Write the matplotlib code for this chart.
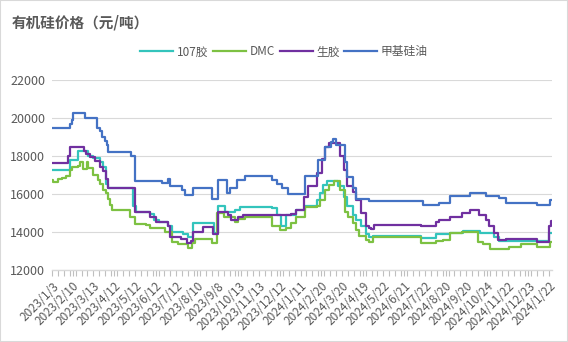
import matplotlib
matplotlib.use("Agg")
import matplotlib.pyplot as plt
from matplotlib.patches import Rectangle

plt.rcParams['font.family'] = ['Noto Sans CJK SC', 'DejaVu Sans']

# x tick labels, one every 21 points
tick_labels = ["2023/1/3", "2023/2/10", "2023/3/13", "2023/4/12", "2023/5/12",
               "2023/6/12", "2023/7/12", "2023/8/10", "2023/9/8", "2023/10/13",
               "2023/11/13", "2023/12/12", "2024/1/11", "2024/2/20", "2024/3/20",
               "2024/4/19", "2024/5/22", "2024/6/21", "2024/7/22", "2024/8/20",
               "2024/9/20", "2024/10/24", "2024/11/22", "2024/12/23", "2024/1/22"]
n_points = 508

# step series: index where a price starts, and the price
j107_idx = [0, 18, 26, 37, 42, 49, 52, 55, 57, 82, 85, 99, 103, 108, 118, 122, 133, 138, 143,
            164, 168, 175, 186, 191, 223, 228, 232, 237, 247, 257, 269, 272, 275, 279, 290,
            296, 299, 305, 308, 313, 318, 321, 325, 374, 389, 404, 417, 434, 448, 453, 504]
j107_val = [17250, 17800, 18250, 18000, 17900, 17700, 17400, 16550, 16300, 15350, 15050, 14950,
            14650, 14550, 14300, 14000, 13900, 13750, 14450, 13950, 15350, 15050, 15150, 15300,
            15250, 14900, 14300, 14900, 15150, 15350, 15700, 16050, 16450, 16700, 16400, 15850,
            15350, 14900, 14650, 14300, 13900, 13750, 13800, 13700, 13900, 13950, 14050, 13950,
            13750, 13550, 13950]

dmc_idx = [0, 1, 6, 10, 14, 18, 20, 26, 28, 31, 36, 37, 42, 47, 49, 52, 55, 57, 59, 61, 79, 84,
           95, 99, 115, 122, 128, 138, 142, 145, 162, 167, 174, 186, 189, 196, 223, 231, 237,
           242, 247, 257, 269, 272, 277, 281, 286, 292, 297, 300, 305, 308, 311, 318, 321, 325,
           374, 389, 396, 404, 416, 432, 437, 444, 463, 475, 492, 505]
dmc_val = [16750, 16650, 16800, 16850, 16950, 17250, 17400, 17450, 17700, 17300, 17700, 17350,
           17000, 16750, 16550, 16200, 16050, 15750, 15400, 15150, 14800, 14400, 14350, 14200,
           14000, 13500, 13350, 13150, 13400, 13650, 13400, 15000, 14800, 14550, 14700, 14800,
           14300, 14100, 14200, 14450, 14800, 15300, 15350, 15700, 16200, 16450, 16700, 16200,
           15050, 14800, 14450, 14100, 13800, 13600, 13450, 13750, 13400, 13550, 13600, 13950,
           14000, 13500, 13350, 13100, 13200, 13350, 13200, 13500]

raw_idx = [0, 16, 18, 32, 35, 39, 44, 49, 52, 55, 57, 84, 99, 105, 118, 120, 131, 137, 141, 143,
           153, 163, 168, 178, 181, 189, 194, 242, 247, 255, 260, 269, 274, 277, 281, 292, 296,
           299, 305, 308, 313, 318, 321, 323, 326, 374, 389, 392, 404, 416, 424, 433, 440, 443,
           448, 452, 460, 492, 504, 506]
raw_val = [17650, 18000, 18450, 18250, 18100, 17950, 17750, 17400, 17200, 16800, 16300, 15050,
           14800, 14550, 14300, 13750, 13650, 13400, 13550, 14000, 14250, 13900, 15050, 14900,
           14650, 14800, 14900, 14950, 15150, 15850, 16400, 17100, 17850, 18500, 18700, 18000,
           17250, 16400, 16100, 15700, 15000, 14300, 14200, 14150, 14350, 14300, 14550, 14650,
           14800, 15000, 15150, 14900, 14650, 14300, 13950, 13600, 13650, 13450, 14300, 14600]

oil_idx = [0, 18, 20, 21, 33, 46, 49, 51, 54, 56, 57, 80, 84, 112, 118, 120, 132, 135, 143, 162,
           168, 177, 180, 188, 196, 223, 228, 233, 239, 257, 270, 277, 283, 285, 288, 297, 299,
           305, 308, 321, 376, 392, 404, 424, 440, 453, 460, 492, 505]
oil_val = [19500, 19700, 19900, 20250, 20000, 19500, 19300, 19000, 18800, 18600, 18200, 18000,
           16700, 16600, 16800, 16400, 16200, 15950, 16300, 15750, 16750, 16050, 16300, 16750,
           16950, 16750, 16550, 16300, 16000, 16950, 17800, 18500, 18750, 18900, 18600, 17700,
           16900, 16300, 15750, 15650, 15400, 15550, 15900, 16050, 15900, 15800, 15550, 15400,
           15700]

series = [("107胶", j107_idx, j107_val, "#33C4BC"),
          ("DMC", dmc_idx, dmc_val, "#7DC142"),
          ("生胶", raw_idx, raw_val, "#7030A0"),
          ("甲基硅油", oil_idx, oil_val, "#4472C4")]

fig = plt.figure(figsize=(5.68, 3.42), dpi=100)
ax = fig.add_axes([0.0915, 0.2105, 0.8805, 0.5555])

for name, idx, val, color in series:
    xs = list(idx) + [n_points - 1]
    ys = list(val) + [val[-1]]
    ax.plot(xs, ys, drawstyle='steps-post', color=color, linewidth=1.6, label=name)

ax.set_xlim(0, n_points - 1)
ax.set_ylim(12000, 22000)
ax.set_yticks(range(12000, 22001, 2000))
ax.grid(axis='y', color='#D9D9D9', linewidth=0.8)
ax.set_axisbelow(True)

ax.set_xticks(range(0, n_points, 21))
ax.set_xticklabels(tick_labels, rotation=45, ha='right', rotation_mode='anchor',
                   fontsize=8.5, color='#595959')
ax.set_xticks(range(0, n_points, 6), minor=True)
ax.tick_params(axis='x', which='both', length=4, width=0.8, color='#BFBFBF', pad=3)
ax.tick_params(axis='y', length=0, labelsize=9, labelcolor='#595959', pad=5)

for s in ['top', 'right', 'left']:
    ax.spines[s].set_visible(False)
ax.spines['bottom'].set_color('#D9D9D9')
ax.spines['bottom'].set_linewidth(1)

fig.text(0.021, 0.935, "有机硅价格（元/吨）", fontsize=10.5, fontweight='bold',
         color='#595959', va='center', ha='left')

fig.legend(loc='center', bbox_to_anchor=(0.5, 0.848), ncol=4, frameon=False,
           fontsize=8.5, labelcolor='#595959', handlelength=2.8, handletextpad=0.3,
           columnspacing=0.4)

fig.patches.append(Rectangle((0, 0), 1, 1, transform=fig.transFigure, fill=False,
                             edgecolor='#D9D9D9', linewidth=1.5))

fig.savefig("out.png", dpi=100)
